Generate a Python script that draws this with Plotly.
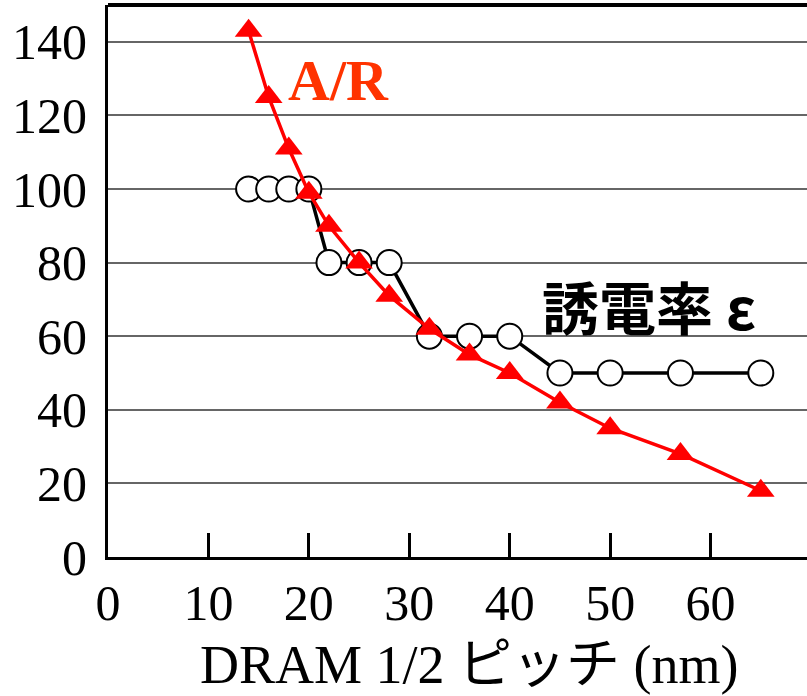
import plotly.graph_objects as go

# DRAM half pitch (nm)
half_pitch = [14, 16, 18, 20, 22, 25, 28, 32, 36, 40, 45, 50, 57, 65]
# Aspect ratio (A/R)
aspect_ratio = [143, 125, 111, 99, 90, 80, 71, 62, 55, 50, 42, 35, 28, 18]
# Dielectric constant (epsilon)
permittivity = [100, 100, 100, 100, 80, 80, 80, 60, 60, 60, 50, 50, 50, 50]

x_ticks = [0, 10, 20, 30, 40, 50, 60]
y_ticks = [0, 20, 40, 60, 80, 100, 120, 140]

SERIF = "Liberation Serif, Times New Roman, serif"

fig = go.Figure()

fig.add_trace(go.Scatter(
    x=half_pitch, y=permittivity, mode="lines+markers",
    line=dict(color="black", width=3.5),
    marker=dict(symbol="circle", size=25, color="white",
                line=dict(color="black", width=2)),
    showlegend=False,
))

fig.add_trace(go.Scatter(
    x=half_pitch, y=aspect_ratio, mode="lines+markers",
    line=dict(color="#FF0000", width=3.5),
    marker=dict(symbol="triangle-up", size=24, color="#FF0000"),
    showlegend=False,
))

fig.update_layout(
    width=807, height=696,
    margin=dict(l=108, r=0, t=5, b=139),
    plot_bgcolor="white", paper_bgcolor="white",
    font=dict(family=SERIF, size=50, color="black"),
)

fig.update_xaxes(
    range=[0, 69.6], tickvals=x_ticks,
    ticktext=[str(v) for v in x_ticks],
    showgrid=False, zeroline=False,
    showline=True, linecolor="black", linewidth=3,
    ticks="inside", ticklen=24, tickwidth=2.5, tickcolor="black",
    ticklabelstandoff=0,
    tickfont=dict(family=SERIF, size=50, color="black"),
)

fig.update_yaxes(
    range=[0, 150], tickvals=y_ticks,
    ticktext=[str(v) for v in y_ticks],
    showgrid=True, gridcolor="#666666", gridwidth=1.5,
    zeroline=False,
    showline=True, linecolor="black", linewidth=3,
    ticks="", ticklabelstandoff=8,
    tickfont=dict(family=SERIF, size=50, color="black"),
)

# top frame line
fig.add_shape(type="line", xref="paper", yref="paper",
              x0=0, x1=1, y0=1, y1=1,
              line=dict(color="black", width=4))

fig.add_annotation(
    x=23, y=129.6, xref="x", yref="y", showarrow=False,
    text="<b>A/R</b>",
    font=dict(family=SERIF, size=58, color="#FF3300"),
)

fig.add_annotation(
    x=53.9, y=68.5, xref="x", yref="y", showarrow=False,
    text="<b>誘電率 ε</b>",
    font=dict(family="Noto Sans CJK JP", size=57, color="black"),
)

fig.add_annotation(
    x=36, y=-0.196, xref="x", yref="paper", showarrow=False,
    yanchor="middle",
    text="DRAM 1/2 ピッチ (nm)",
    font=dict(family="Liberation Serif, Noto Sans CJK JP", size=54, color="black"),
)

fig.write_html("out.html")
